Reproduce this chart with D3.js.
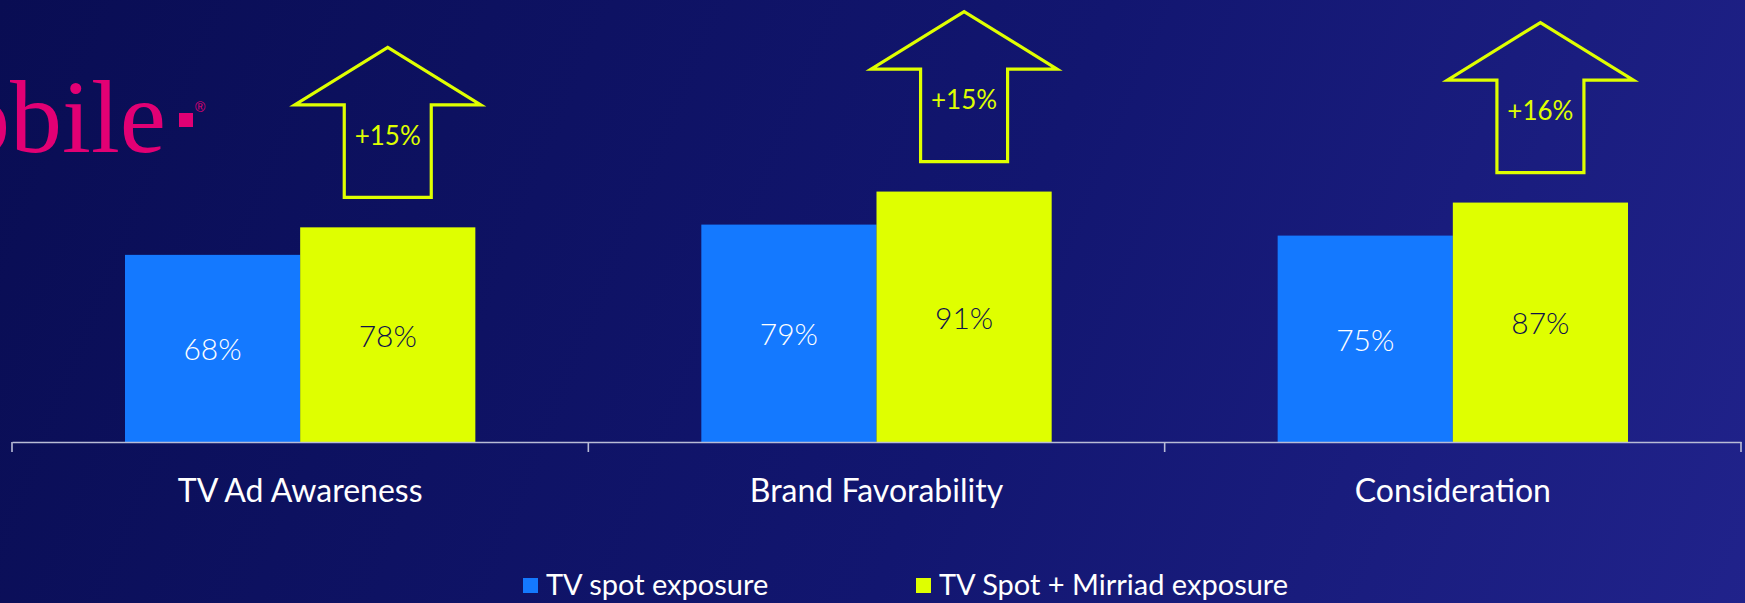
<!DOCTYPE html>
<html>
<head>
<meta charset="utf-8">
<script src="https://cdn.jsdelivr.net/npm/d3@7"></script>
<style>
  html, body { margin: 0; padding: 0; background: #0a0e55; }
  svg { display: block; }
  text { font-family: Lato, "Open Sans", sans-serif; }
</style>
</head>
<body>
<svg id="chart" width="1745" height="603"></svg>
<script>
// Survey results: share of respondents per metric, by exposure group
const categories = ["TV Ad Awareness", "Brand Favorability", "Consideration"];
const seriesNames = ["TV spot exposure", "TV Spot + Mirriad exposure"];
const tvSpot = [68, 79, 75];
const tvSpotMirriad = [78, 91, 87];
const liftLabels = ["+15%", "+15%", "+16%"];

const W = 1745, H = 603;
const colors = { [seriesNames[0]]: "#1479ff", [seriesNames[1]]: "#dfff00" };
const labelColors = { [seriesNames[0]]: "#ffffff", [seriesNames[1]]: "#10124a" };
const accent = "#dfff00";

const svg = d3.select("#chart");

// background gradient
const defs = svg.append("defs");
const grad = defs.append("linearGradient")
  .attr("id", "bg").attr("gradientUnits", "userSpaceOnUse")
  .attr("x1", 0).attr("y1", 0).attr("x2", W).attr("y2", 700);
grad.append("stop").attr("offset", 0).attr("stop-color", "#090d53");
grad.append("stop").attr("offset", 0.55).attr("stop-color", "#121670");
grad.append("stop").attr("offset", 1).attr("stop-color", "#21238c");
svg.append("rect").attr("width", W).attr("height", H).attr("fill", "url(#bg)");

// brand wordmark, partly off the left edge
const logo = svg.append("g").attr("class", "logo");
logo.append("text")
  .attr("x", 166).attr("y", 152)
  .attr("text-anchor", "end")
  .style("font-family", "'Liberation Serif', 'DejaVu Serif', serif")
  .style("font-size", "104px")
  .attr("fill", "#e20074")
  .text("T-Mobile");
logo.append("rect").attr("x", 179).attr("y", 113).attr("width", 14).attr("height", 14).attr("fill", "#e20074");
logo.append("text")
  .attr("x", 195).attr("y", 112)
  .style("font-family", "'Liberation Sans', sans-serif")
  .style("font-size", "14px")
  .attr("fill", "#e20074")
  .text("®");

// scales
const baseY = 442;
const x = d3.scaleBand().domain(categories).range([12, 1741]).paddingInner(0).paddingOuter(0);
const xSub = d3.scaleBand().domain(seriesNames).range([0, x.bandwidth()]).paddingInner(0).paddingOuter(0.645);
const y = d3.scaleLinear().domain([0, 100]).range([baseY, 166.8]);

const rows = categories.map((c, i) => ({
  category: c,
  values: [
    { series: seriesNames[0], value: tvSpot[i] },
    { series: seriesNames[1], value: tvSpotMirriad[i] }
  ],
  lift: liftLabels[i]
}));

// bars
const groups = svg.append("g").selectAll("g.group")
  .data(rows).join("g")
  .attr("class", "group")
  .attr("transform", d => `translate(${x(d.category)},0)`);

groups.selectAll("rect.bar")
  .data(d => d.values).join("rect")
  .attr("class", "bar")
  .attr("x", d => xSub(d.series))
  .attr("y", d => y(d.value))
  .attr("width", xSub.bandwidth())
  .attr("height", d => y(0) - y(d.value))
  .attr("fill", d => colors[d.series]);

groups.selectAll("text.value")
  .data(d => d.values).join("text")
  .attr("class", "value")
  .attr("x", d => xSub(d.series) + xSub.bandwidth() / 2)
  .attr("y", d => (y(d.value) + y(0)) / 2)
  .attr("text-anchor", "middle")
  .attr("dominant-baseline", "central")
  .style("font-size", "30px")
  .style("font-weight", 300)
  .attr("fill", d => labelColors[d.series])
  .text(d => d.value + "%");

// outlined lift arrows above the combined-exposure bars
const arrowH = 150, headH = 57.5, headHalf = 93, shaftHalf = 43.5, gap = 30;
groups.each(function(d) {
  const top = d.values[1];
  const cx = xSub(top.series) + xSub.bandwidth() / 2;
  const bottom = y(top.value) - gap;
  const tip = bottom - arrowH;
  const neck = tip + headH;
  const pts = [
    [cx, tip], [cx + headHalf, neck], [cx + shaftHalf, neck], [cx + shaftHalf, bottom],
    [cx - shaftHalf, bottom], [cx - shaftHalf, neck], [cx - headHalf, neck]
  ];
  const g = d3.select(this);
  g.append("path")
    .attr("d", d3.line()(pts) + "Z")
    .attr("fill", "none")
    .attr("stroke", accent)
    .attr("stroke-width", 3.2)
    .attr("stroke-linejoin", "miter");
  g.append("text")
    .attr("x", cx)
    .attr("y", neck + 40)
    .attr("text-anchor", "middle")
    .style("font-size", "26px")
    .attr("fill", accent)
    .text(d.lift);
});

// category axis with ticks at band edges
const axisG = svg.append("g").attr("transform", `translate(0,${baseY})`);
axisG.call(d3.axisBottom(x).tickSize(0).tickPadding(0));
axisG.select(".domain").attr("stroke", "#b9bcd6").attr("stroke-width", 1.6);
axisG.selectAll(".tick text")
  .attr("y", 60)
  .attr("dy", 0)
  .attr("fill", "#ffffff")
  .style("font-family", "Lato, sans-serif")
  .style("font-size", "32px");
const edges = categories.map(c => x(c)).concat([x.range()[1]]);
axisG.selectAll("line.edge")
  .data(edges).join("line")
  .attr("class", "edge")
  .attr("x1", d => d).attr("x2", d => d)
  .attr("y1", 0).attr("y2", 10)
  .attr("stroke", "#b9bcd6").attr("stroke-width", 1.6);

// legend
const legendX = [523, 916];
const legend = svg.append("g").selectAll("g")
  .data(seriesNames).join("g")
  .attr("transform", (d, i) => `translate(${legendX[i]},578)`);
legend.append("rect").attr("width", 15).attr("height", 15).attr("fill", d => colors[d]);
legend.append("text")
  .attr("x", 23).attr("y", 17)
  .style("font-size", "29px")
  .attr("fill", "#ffffff")
  .text(d => d);
</script>
</body>
</html>
